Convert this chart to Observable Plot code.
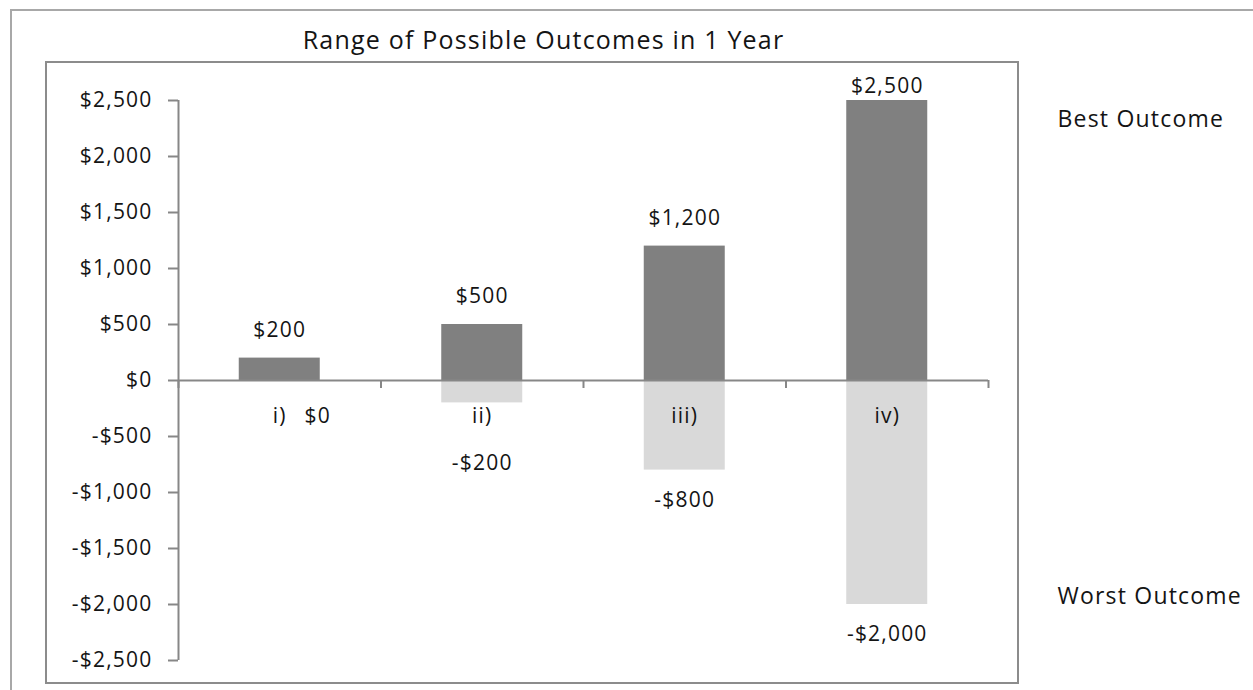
<!DOCTYPE html>
<html>
<head>
<meta charset="utf-8">
<script src="https://cdn.jsdelivr.net/npm/d3@7"></script>
<script src="https://cdn.jsdelivr.net/npm/@observablehq/plot@0.6"></script>
<style>
  html, body { margin: 0; padding: 0; background: #fff; }
  #wrap { position: relative; width: 1253px; height: 690px; overflow: hidden; }
  #outer { position: absolute; left: 10px; top: 9px; width: 1400px; height: 800px;
           border-left: 2px solid #a8a8a8; border-top: 2px solid #a8a8a8; }
  #inner { position: absolute; left: 45px; top: 61px; width: 970px; height: 619px;
           border: 2px solid #8c8c8c; }
  #chart { position: absolute; left: 0; top: 0; }
  #chart text { letter-spacing: 1.2px; }
  #chart g[aria-label="chart-title"] text { letter-spacing: 1.4px; }
  #chart g[aria-label="side-label"] text { letter-spacing: 1.2px; }
</style>
</head>
<body>
<div id="wrap">
  <div id="outer"></div>
  <div id="inner"></div>
  <div id="chart"></div>
</div>
<script>
// ---- data ----
const categories = ["i)", "ii)", "iii)", "iv)"];
const bestValues = [200, 500, 1200, 2500];
const worstValues = [0, -200, -800, -2000];
const yTicks = [2500, 2000, 1500, 1000, 500, 0, -500, -1000, -1500, -2000, -2500];
const chartTitle = "Range of Possible Outcomes in 1 Year";
const bestLabel = "Best Outcome";
const worstLabel = "Worst Outcome";

const fmt = d => (d < 0 ? "-" : "") + "$" + d3.format(",")(Math.abs(d));
const rows = categories.map((c, i) => ({c, i, best: bestValues[i], worst: worstValues[i]}));
const boundaries = d3.range(-0.5, categories.length, 1);
const FONT = "'Open Sans', sans-serif";
const TXT = "#141414";
const AX = "#878787";
const FS = 21;

const chart = Plot.plot({
  width: 1253,
  height: 690,
  marginLeft: 178,
  marginRight: 265,
  marginTop: 100,
  marginBottom: 30,
  x: {type: "linear", domain: [-0.5, categories.length - 0.5], axis: null},
  y: {domain: [-2500, 2500], axis: null},
  style: {fontFamily: FONT, background: "transparent", color: TXT, overflow: "visible"},
  marks: [
    Plot.rect(rows, {x1: d => d.i - 0.2, x2: d => d.i + 0.2, y1: 0, y2: "best", fill: "#808080"}),
    Plot.rect(rows.filter(d => d.worst < 0), {x1: d => d.i - 0.2, x2: d => d.i + 0.2, y1: 0, y2: "worst", fill: "#d9d9d9"}),
    // y axis line and ticks
    Plot.ruleX([-0.5], {stroke: AX, strokeWidth: 2}),
    Plot.ruleY(yTicks, {x1: -0.5, x2: -0.5, insetLeft: -10, stroke: AX, strokeWidth: 2}),
    Plot.text(yTicks, {x: -0.5, y: d => d, dx: -26, textAnchor: "end", text: fmt, fontSize: FS, fill: TXT}),
    // x axis line at zero and ticks
    Plot.ruleY([0], {stroke: AX, strokeWidth: 2}),
    Plot.ruleX(boundaries, {x: d => d, y1: 0, y2: 0, insetBottom: -8, stroke: AX, strokeWidth: 2}),
    // category labels
    Plot.text(rows, {x: "i", y: 0, dy: 36, text: "c", fontSize: FS, fill: TXT}),
    // best labels
    Plot.text(rows, {x: "i", y: d => Math.min(d.best, 2380), dy: -28, text: d => fmt(d.best), fontSize: FS, fill: TXT}),
    // worst labels
    Plot.text(rows.filter(d => d.worst < 0), {x: "i", y: d => Math.min(d.worst, -470), dy: 30, text: d => fmt(d.worst), fontSize: FS, fill: TXT}),
    Plot.text(rows.filter(d => d.worst === 0), {x: "i", y: 0, dx: 38, dy: 36, text: d => fmt(d.worst), fontSize: FS, fill: TXT}),
    // title and side labels
    Plot.text([chartTitle], {frameAnchor: "top", dx: -40, dy: -69, fontSize: 25, fill: TXT, ariaLabel: "chart-title"}),
    Plot.text([bestLabel], {frameAnchor: "top-right", dx: 69, dy: 10, textAnchor: "start", fontSize: 23, fill: TXT, ariaLabel: "side-label"}),
    Plot.text([worstLabel], {frameAnchor: "bottom-right", dx: 69, dy: -57, textAnchor: "start", fontSize: 23, fill: TXT, ariaLabel: "side-label"})
  ]
});
document.getElementById("chart").appendChild(chart);
</script>
</body>
</html>
